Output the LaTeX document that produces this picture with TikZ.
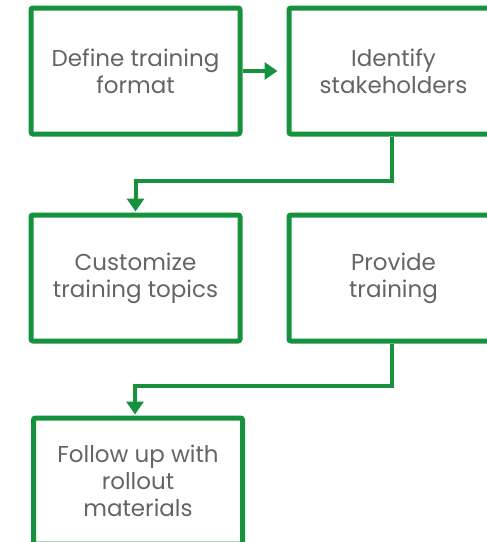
\documentclass[tikz,border=0pt]{standalone}
\usepackage{fontspec}
\setmainfont{Poppins}
\usepackage{tikz}
\usetikzlibrary{arrows.meta}
\definecolor{flowgreen}{RGB}{22,146,62}
\definecolor{textgray}{RGB}{100,100,100}
\tikzstyle{node_step} = [rectangle, draw=flowgreen, line width=5pt, rounded corners=2pt, minimum width=209pt, minimum height=126pt, align=center, text=textgray, font=\fontsize{23}{27}\selectfont]
\tikzstyle{edge_flow} = [draw=flowgreen, line width=4pt, -{Triangle[length=13pt,width=17pt]}]

\begin{document}
\begin{tikzpicture}[x=1pt,y=-1pt]
		\useasboundingbox (0,0) rectangle (487,542);
		\node (define) at (135.5,71) [node_step] {Define training\\format};
		\node (identify) at (393.5,71) [node_step] {Identify\\stakeholders};
		\node (customize) at (135.5,278) [node_step] {Customize\\training topics};
		\node (provide) at (393.5,278) [node_step] {Provide\\training};
		\node (follow) at (138,481) [node_step] {Follow up with\\rollout\\materials};
		
		\draw[edge_flow, shorten >=9pt] (define.east) -- (identify.west);
		\draw[edge_flow, shorten >=1pt] ([xshift=-2pt]identify.south) -- ++(0,44) -| (customize.north);
		\draw[edge_flow, shorten >=1pt] ([xshift=-2pt]provide.south) -- ++(0,42) -| ([xshift=-3pt]follow.north);
		\end{tikzpicture}
\end{document}
